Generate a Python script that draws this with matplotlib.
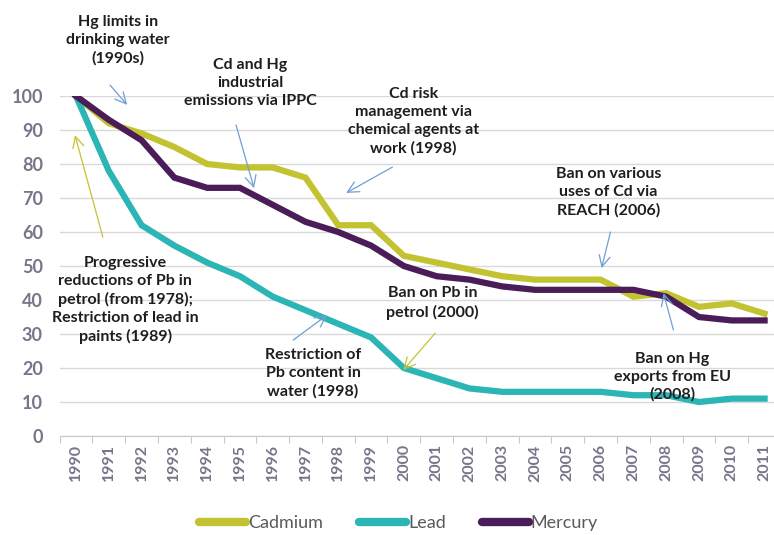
import matplotlib
matplotlib.use("Agg")
import matplotlib.pyplot as plt
import numpy as np

years = [str(y) for y in range(1990, 2012)]
cadmium = [100, 92, 89, 85, 80, 79, 79, 76, 62, 62, 53, 51, 49, 47, 46, 46, 46, 41, 42, 38, 39, 36]
lead = [100, 78, 62, 56, 51, 47, 41, 37, 33, 29, 20, 17, 14, 13, 13, 13, 13, 12, 12, 10, 11, 11]
mercury = [100, 93, 87, 76, 73, 73, 68, 63, 60, 56, 50, 47, 46, 44, 43, 43, 43, 43, 41, 35, 34, 34]

cd_color = "#c3c331"
pb_color = "#2bb5b5"
hg_color = "#4a1c58"
blue_arrow = "#6f9fd3"
yellow_arrow = "#c3c331"
text_col = "#1e1e1e"
tick_col = "#76768a"

plt.rcParams["font.family"] = ["Lato", "DejaVu Sans"]

fig = plt.figure(figsize=(7.74, 5.35), dpi=100)
ax = fig.add_axes([0.077, 0.185, 0.932, 0.6355])

x = np.arange(len(years))
ax.plot(x, cadmium, color=cd_color, lw=4.5, label="Cadmium", solid_joinstyle="miter", zorder=3)
ax.plot(x, lead, color=pb_color, lw=4.5, label="Lead", solid_joinstyle="miter", zorder=3)
ax.plot(x, mercury, color=hg_color, lw=4.5, label="Mercury", solid_joinstyle="miter", zorder=4)

ax.set_xlim(-0.5, len(years) - 0.5)
ax.set_ylim(0, 100)
ax.set_yticks(range(0, 101, 10))
ax.set_xticks(x)
ax.set_xticklabels(years, rotation=90, fontsize=11.5, fontweight="bold", color=tick_col)
ax.set_xticks(np.arange(-0.5, len(years), 1), minor=True)
ax.tick_params(axis="x", which="major", length=0, pad=6)
ax.tick_params(axis="x", which="minor", length=5, color="#c8c8c8", width=0.8)
ax.tick_params(axis="y", length=0, pad=12, labelsize=13, labelcolor=tick_col)
for lbl in ax.get_yticklabels():
    lbl.set_fontweight("bold")
ax.grid(axis="y", color="#d9d9d9", lw=1.0)
ax.set_axisbelow(True)
for s in ["top", "right", "left"]:
    ax.spines[s].set_visible(False)
ax.spines["bottom"].set_color("#c8c8c8")

# annotations: (text, text position, arrow tail, arrow head, arrow colour)
notes = [
    ("Hg limits in\ndrinking water\n(1990s)", (1.28, 116.5), (1.04, 103.2), (1.56, 97.4), blue_arrow),
    ("Cd and Hg\nindustrial\nemissions via IPPC", (5.31, 103.8), (4.88, 91.5), (5.43, 72.9), blue_arrow),
    ("Cd risk\nmanagement via\nchemical agents at\nwork (1998)", (10.29, 92.6), (9.65, 79.1), (8.24, 71.5), blue_arrow),
    ("Ban on various\nuses of Cd via\nREACH (2006)", (16.24, 71.8), (16.3, 60.0), (16.03, 49.4), blue_arrow),
    ("Progressive\nreductions of Pb in\npetrol (from 1978);\nRestriction of lead in\npaints (1989)",
     (1.5, 40.0), (0.82, 58.5), (-0.03, 88.5), yellow_arrow),
    ("Ban on Pb in\npetrol (2000)", (10.87, 39.1), (10.96, 30.3), (9.98, 19.4), yellow_arrow),
    ("Restriction of\nPb content in\nwater (1998)", (7.23, 18.5), (6.62, 28.2), (7.66, 35.6), blue_arrow),
    ("Ban on Hg\nexports from EU\n(2008)", (18.19, 17.4), (18.22, 31.2), (17.92, 42.0), blue_arrow),
]
for txt, pos, tail, head, col in notes:
    ax.text(pos[0], pos[1], txt, ha="center", va="center", fontsize=11.5,
            fontweight="bold", color=text_col, linespacing=1.35, clip_on=False, zorder=5)
    ax.annotate("", xy=head, xytext=tail, annotation_clip=False,
                arrowprops=dict(arrowstyle="->,head_length=0.8,head_width=0.4",
                                color=col, lw=0.9, shrinkA=0, shrinkB=0), zorder=5)

leg = fig.legend(loc="center", bbox_to_anchor=(0.515, 0.022), ncol=3, frameon=False,
                 fontsize=13, handlelength=2.6, handletextpad=0.1, columnspacing=2.0)
for line in leg.get_lines():
    line.set_linewidth(6)
    line.set_solid_capstyle("round")
for t in leg.get_texts():
    t.set_color("#595959")

fig.savefig("out.png", dpi=100)
